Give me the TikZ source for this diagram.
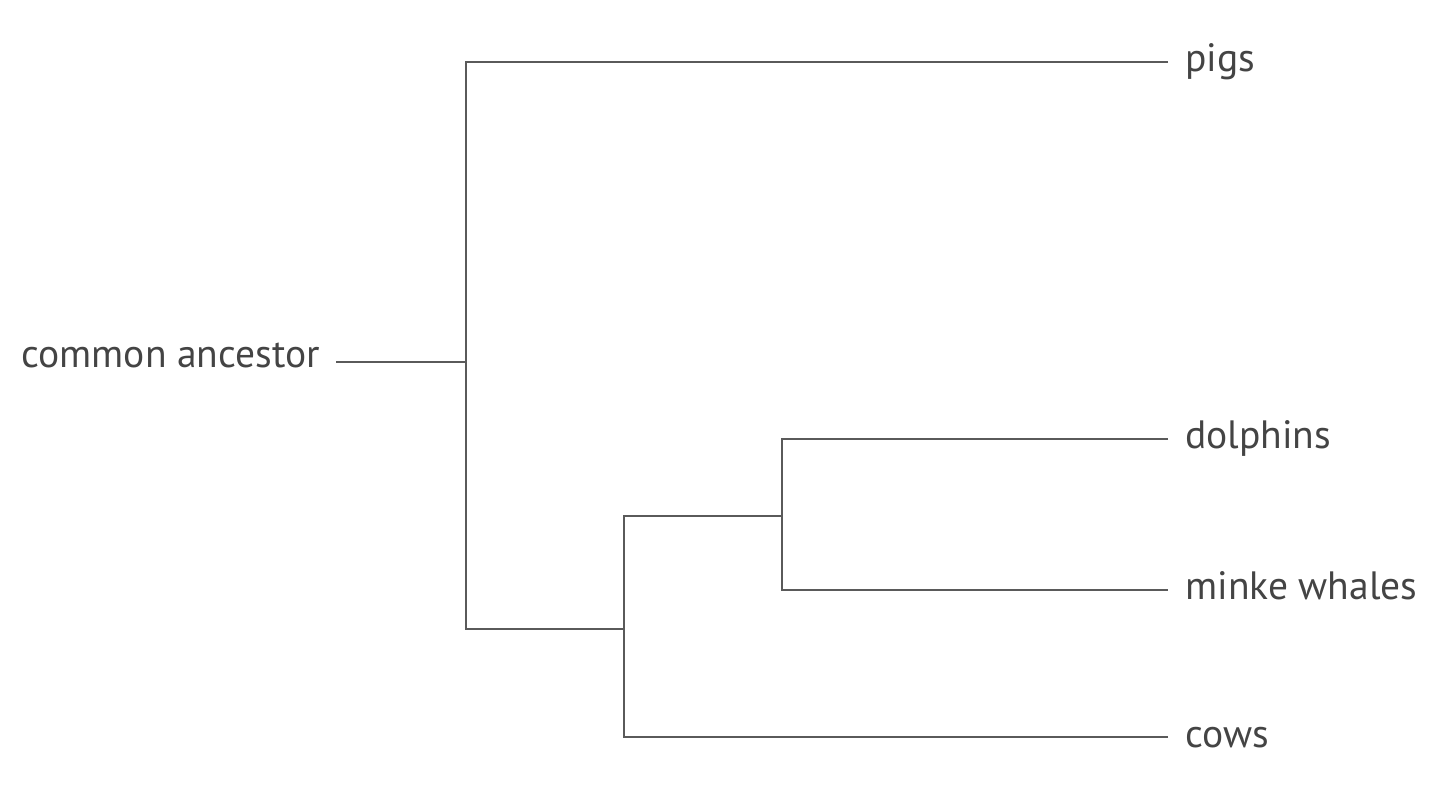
\documentclass[tikz,border=0pt]{standalone}
\usepackage{fontspec}
\setmainfont{PT Sans}
\usetikzlibrary{positioning}
\definecolor{treegray}{HTML}{5A5A5A}
\definecolor{labelgray}{HTML}{444444}

\begin{document}
\begin{tikzpicture}[x=0.02cm,y=-0.02cm,
		branch/.style={draw=treegray,line width=1.6pt},
		taxon/.style={anchor=base west,inner sep=0pt,text=labelgray,font=\fontsize{22.5}{26}\selectfont}]
			\useasboundingbox (0,0) rectangle (1440,786);
			% leaves
			\node[taxon] (pigs) at (1185,72) {pigs};
			\node[taxon] (dolphins) at (1185,449) {dolphins};
			\node[taxon] (minke) at (1185,600) {minke whales};
			\node[taxon] (cows) at (1185,747) {cows};
			\node[taxon,anchor=base east] (ancestor) at (320,368) {common ancestor};
			% branch points
			\coordinate (root) at (466,362);
			\coordinate (artio) at (624,629);
			\coordinate (cetacea) at (782,516);
			% tree
			\draw[branch] ([xshift=-0.34cm]pigs.west |- 0,62) -| (root |- 0,629) -- (artio);
			\draw[branch] ([xshift=0.32cm]ancestor.east |- root) -- (root);
			\draw[branch] ([xshift=-0.34cm]cows.west |- 0,737) -| (artio |- cetacea) -- (cetacea);
			\draw[branch] ([xshift=-0.34cm]dolphins.west |- 0,439) -| (cetacea |- 0,590) -- ([xshift=-0.34cm]minke.west |- 0,590);
		\end{tikzpicture}
\end{document}
